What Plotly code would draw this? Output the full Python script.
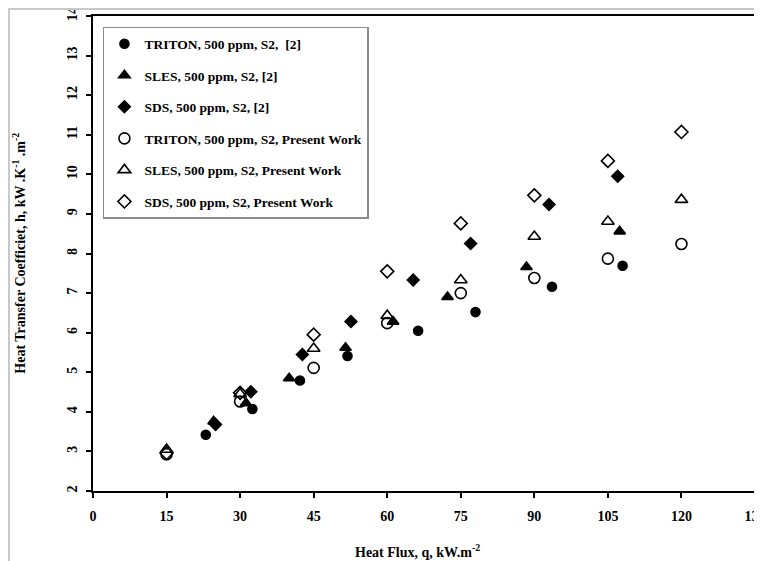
import plotly.graph_objects as go

# ---- data ----
triton_ref_q = [23.0, 32.5, 42.2, 51.9, 66.3, 78.0, 93.6, 108.0]
triton_ref_h = [3.42, 4.07, 4.79, 5.41, 6.05, 6.52, 7.16, 7.69]

sles_ref_q = [24.6, 31.2, 40.0, 51.5, 61.2, 72.3, 88.4, 107.4]
sles_ref_h = [3.76, 4.22, 4.85, 5.62, 6.28, 6.90, 7.66, 8.56]

sds_ref_q = [25.0, 32.2, 42.7, 52.6, 65.3, 77.0, 93.0, 107.0]
sds_ref_h = [3.68, 4.51, 5.45, 6.28, 7.33, 8.25, 9.24, 9.95]

present_q = [15, 30, 45, 60, 75, 90, 105, 120]
triton_pw_h = [2.93, 4.26, 5.11, 6.24, 7.00, 7.38, 7.87, 8.24]
sles_pw_h = [3.05, 4.45, 5.60, 6.43, 7.33, 8.43, 8.81, 9.36]
sds_pw_h = [2.96, 4.48, 5.95, 7.55, 8.76, 9.47, 10.34, 11.07]

x_ticks = [0, 15, 30, 45, 60, 75, 90, 105, 120, 135]
y_ticks = [2, 3, 4, 5, 6, 7, 8, 9, 10, 11, 12, 13, 14]

names = [
    "TRITON, 500 ppm, S2,  [2]",
    "SLES, 500 ppm, S2, [2]",
    "SDS, 500 ppm, S2, [2]",
    "TRITON, 500 ppm, S2, Present Work",
    "SLES, 500 ppm, S2, Present Work",
    "SDS, 500 ppm, S2, Present Work",
]

x_title = "Heat Flux, q, kW.m<sup>-2</sup>"
y_title = "Heat Transfer Coefficiet, h, kW .K<sup>-1</sup> .m<sup>-2</sup>"

FONT = "Liberation Serif"

series = [
    (triton_ref_q, triton_ref_h, "circle", 9),
    (sles_ref_q, sles_ref_h, "triangle-up", 10),
    (sds_ref_q, sds_ref_h, "diamond", 9),
    (present_q, triton_pw_h, "circle-open", 11),
    (present_q, sles_pw_h, "triangle-up-open", 11),
    (present_q, sds_pw_h, "diamond-open", 10),
]

fig = go.Figure()
for i, ((xs, ys, sym, sz), nm) in enumerate(zip(series, names)):
    fig.add_trace(go.Scatter(
        x=xs, y=ys, mode="markers", name=nm, legendgroup=f"g{i}",
        marker=dict(symbol=sym, size=sz, color="black",
                    line=dict(color="black", width=1.6)),
    ))

fig.update_layout(
    width=754, height=553,
    margin=dict(l=85, r=7, t=8, b=70),
    paper_bgcolor="white", plot_bgcolor="white",
    font=dict(family=FONT, size=14, color="black"),
    showlegend=True,
    legend=dict(
        x=0.015, y=0.977, xanchor="left", yanchor="top",
        bgcolor="white", bordercolor="#8c8c8c", borderwidth=1.5,
        font=dict(family=FONT, size=13.5, color="black", weight="bold"),
        tracegroupgap=11, itemwidth=30,
    ),
    xaxis=dict(
        range=[0, 135], tickmode="array", tickvals=x_ticks,
        ticks="outside", ticklen=5, tickwidth=2, tickcolor="black",
        showline=True, linecolor="black", linewidth=2, mirror=True,
        showgrid=False, zeroline=False, ticklabeloverflow="allow",
        tickfont=dict(family=FONT, size=14, weight="bold"),
        ticklabelstandoff=6, automargin=False,
    ),
    yaxis=dict(
        range=[2, 14], tickmode="array", tickvals=y_ticks,
        ticks="outside", ticklen=5, tickwidth=2, tickcolor="black",
        showline=True, linecolor="black", linewidth=2, mirror=True,
        showgrid=False, zeroline=False, tickangle=-90, ticklabeloverflow="allow",
        tickfont=dict(family=FONT, size=14, weight="bold"),
        ticklabelstandoff=3, automargin=False,
    ),
    annotations=[
        dict(text=x_title, xref="paper", yref="paper", x=0.49, y=-0.126,
             xanchor="center", yanchor="middle", showarrow=False,
             font=dict(family=FONT, size=14, weight="bold")),
        dict(text=y_title, xref="paper", yref="paper", x=-0.113, y=0.5,
             xanchor="center", yanchor="middle", showarrow=False, textangle=-90,
             font=dict(family=FONT, size=14, weight="bold")),
    ],
    shapes=[
        dict(type="line", xref="paper", yref="paper", x0=-0.128, x1=1.2,
             y0=1.0147, y1=1.0147, line=dict(color="#c8c8c8", width=2)),
        dict(type="line", xref="paper", yref="paper", x0=-0.1269, x1=-0.1269,
             y0=1.02, y1=-0.2, line=dict(color="#c8c8c8", width=2)),
    ],
)

fig.write_html("out.html")
